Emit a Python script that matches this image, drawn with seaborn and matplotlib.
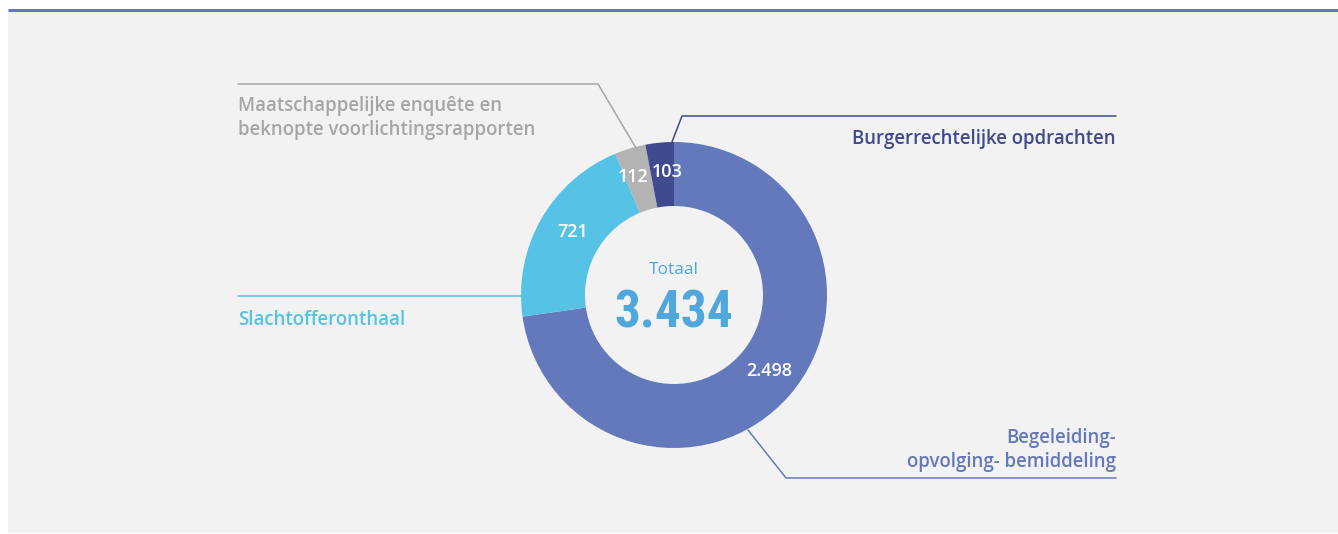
import numpy as np
import matplotlib
matplotlib.use("Agg")
import matplotlib.pyplot as plt
from matplotlib.patches import Rectangle
import seaborn as sns

# ---- data ----
categories = ["Begeleiding-\nopvolging- bemiddeling", "Slachtofferonthaal",
              "Maatschappelijke enquête en\nbeknopte voorlichtingsrapporten",
              "Burgerrechtelijke opdrachten"]
values = [2498, 721, 112, 103]
colors = ["#6479bb", "#56c3e6", "#b3b3b3", "#3f4a8f"]
label_colors = ["#6479bb", "#56c3e6", "#a6a6a6", "#3f4a8f"]
total_title = "Totaal"

sns.set_style("white")
plt.rcParams['font.family'] = ['Open Sans', 'DejaVu Sans']

W, H = 1338, 534
fig = plt.figure(figsize=(W / 100, H / 100), dpi=100, facecolor="white")
ax = fig.add_axes([0, 0, 1, 1])


def Y(py):
    return H - py


def fmt(v):
    return f"{v:,}".replace(",", ".")


# background panel + top rule
ax.add_patch(Rectangle((8, Y(533)), W - 8, 523, facecolor="#f2f2f2", edgecolor="none", zorder=0))
ax.plot([8, W], [Y(10), Y(10)], color="#6479bb", lw=2.2, zorder=1, solid_capstyle="butt")

# donut
cx, cy, R = 674, Y(295), 153
total = sum(values)
wedges, _ = ax.pie(values, colors=colors, startangle=90, counterclock=False,
                   center=(cx, cy), radius=R, frame=True,
                   wedgeprops=dict(width=R - 89, edgecolor="none"))
ax.set_xlim(0, W)
ax.set_ylim(0, H)
ax.axis("off")

# value labels in ring; small neighbouring slices are pushed apart at their shared edge
lab_kw = dict(color="white", va="center", fontsize=13, fontweight="semibold")
cum = np.cumsum([0] + values[:-1])
small = [v / total < 0.05 for v in values]
for i, (v, c0) in enumerate(zip(values, cum)):
    if small[i]:
        if i + 1 < len(values) and small[i + 1]:
            edge = np.deg2rad(90 - 360 * (c0 + v) / total)
            r = R * 0.81
            ax.text(cx + r * np.cos(edge) - 2, cy + r * np.sin(edge) - 4, fmt(v), ha="right", **lab_kw)
        else:
            edge = np.deg2rad(90 - 360 * c0 / total)
            r = R * 0.81
            ax.text(cx + r * np.cos(edge) + 1, cy + r * np.sin(edge) + 1, fmt(v), ha="left", **lab_kw)
        continue
    ang = np.deg2rad(90 - 360 * (c0 + v / 2) / total)
    r = R * 0.79
    ax.text(cx + r * np.cos(ang) + 4, cy + r * np.sin(ang) + 3, fmt(v), ha="center", **lab_kw)

# centre text
ax.text(cx, Y(270), total_title, color="#4fa7dc", ha="center", va="center", fontsize=12.5)
ax.text(cx, Y(313), fmt(total), color="#4fa7dc", ha="center", va="center",
        fontsize=37, fontweight="bold",
        family=['Liberation Sans Narrow', 'DejaVu Sans Condensed', 'Roboto Condensed', 'DejaVu Sans'])

# leader lines and category labels
lw = 1.1
cat_kw = dict(fontsize=13.4, fontweight="semibold", va="center", linespacing=1.25)
# Burgerrechtelijke
ax.plot([672, 682, 1116], [Y(142), Y(116), Y(116)], color=label_colors[3], lw=lw)
ax.text(1116, Y(139), categories[3], color=label_colors[3], ha="right", **cat_kw)
# Maatschappelijke
ax.plot([636, 598, 238], [Y(148), Y(84), Y(84)], color=label_colors[2], lw=lw)
ax.text(238, Y(118), categories[2], color=label_colors[2], ha="left", **cat_kw)
# Slachtofferonthaal
ax.plot([238, 521], [Y(296), Y(296)], color=label_colors[1], lw=lw)
ax.text(238, Y(320), categories[1], color=label_colors[1], ha="left", **cat_kw)
# Begeleiding
ax.plot([748, 786, 1116], [Y(430), Y(478), Y(478)], color=label_colors[0], lw=lw)
ax.text(1116, Y(450), categories[0], color=label_colors[0], ha="right",
        multialignment="right", **cat_kw)

fig.savefig("out.png", dpi=100, facecolor="white")
